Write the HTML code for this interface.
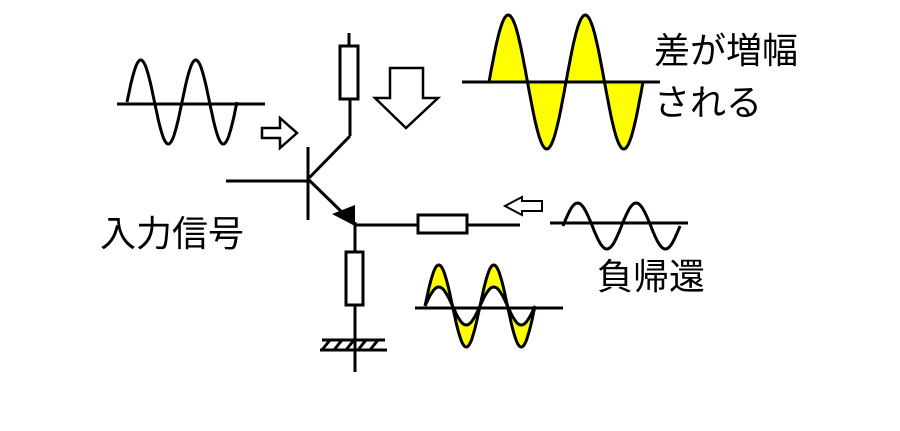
<!DOCTYPE html>
<html><head><meta charset="utf-8"><style>
html,body{margin:0;padding:0;background:#fff;width:900px;height:431px;overflow:hidden}
.t{position:absolute;font-family:"Liberation Sans","Noto Sans CJK JP",sans-serif;font-size:36px;color:#000;line-height:1;white-space:nowrap}
</style></head><body>
<svg id="s" width="900" height="431" style="position:absolute;left:0;top:0" xmlns="http://www.w3.org/2000/svg">
<g stroke="#000" stroke-width="3" fill="none" stroke-linecap="butt">
<path id="fillBig" fill="#ffff00" stroke="none"/>
<path id="fillBot" fill="#ffff00" stroke="none"/>
<line x1="117" y1="104" x2="265" y2="104"/>
<line x1="462" y1="82" x2="660" y2="82"/>
<line x1="550" y1="223" x2="688" y2="223"/>
<line x1="415" y1="308" x2="563" y2="308"/>
<path id="w1"/><path id="w2"/><path id="w3"/><path id="w4"/><path id="w5"/>
<polygon points="262,128 280,128 280,118 297,133 280,148 280,138 262,138" stroke-width="2.5" fill="#fff"/>
<polygon points="390,68 423,68 423,98 438,98 406,128 375,98 390,98" stroke-width="2.5" fill="#fff"/>
<polygon points="542,201 522,201 522,197 505,206 522,215 522,211 542,211" stroke-width="2" fill="#fff"/>
<line x1="349" y1="33" x2="349" y2="46"/>
<rect x="340" y="46" width="18" height="53" fill="#fff"/>
<line x1="350" y1="99" x2="350" y2="136"/>
<line x1="350" y1="136" x2="309" y2="178"/>
<line x1="308" y1="147" x2="308" y2="220"/>
<line x1="226" y1="181" x2="308" y2="181"/>
<line x1="309" y1="180" x2="350" y2="220"/>
<polygon points="332,214 355,205 355,226" fill="#000" stroke="none"/>
<line x1="355" y1="222" x2="355" y2="252"/>
<line x1="354" y1="225" x2="418" y2="225"/>
<rect x="418" y="215" width="49" height="18" fill="#fff"/>
<line x1="467" y1="225" x2="520" y2="225"/>
<rect x="346" y="252" width="17" height="53" fill="#fff"/>
<line x1="355" y1="305" x2="355" y2="372"/>
<line x1="322" y1="340" x2="385" y2="340"/>
<line x1="320" y1="350" x2="387" y2="350"/>
<line x1="322" y1="350" x2="330" y2="340"/><line x1="334" y1="350" x2="342" y2="340"/>
<line x1="346" y1="350" x2="354" y2="340"/><line x1="358" y1="350" x2="366" y2="340"/>
<line x1="370" y1="350" x2="378" y2="340"/>
</g>
</svg>
<div class="t" style="left:654px;top:33px">差が増幅</div>
<div class="t" style="left:654px;top:85px">される</div>
<div class="t" style="left:100px;top:216px">入力信号</div>
<div class="t" style="left:597px;top:259px">負帰還</div>
<script>
function pts(x0,per,amp,cy,n){var a=[];for(var i=0;i<=n*80;i++){var x=x0+per*i/80;a.push([x,cy-amp*Math.sin(2*Math.PI*i/80)]);}return a;}
function d(a){return "M"+a.map(function(p){return p[0].toFixed(1)+","+p[1].toFixed(1)}).join(" L");}
var S=document.getElementById.bind(document);
S("w1").setAttribute("d",d(pts(127,55,42,102,2)));
var big=pts(489,77,67,82,2);
S("w2").setAttribute("d",d(big));
S("fillBig").setAttribute("d",d(big)+" Z");
S("w3").setAttribute("d",d(pts(563,58.5,23,226,2)));
var b1=pts(425,55,41,306,2),b2=pts(425,55,19,306,2);
S("w4").setAttribute("d",d(b1));
S("w5").setAttribute("d",d(b2));
S("fillBot").setAttribute("d",d(b1)+" L"+d(b2.slice().reverse()).slice(1)+" Z");
</script>
</body></html>
